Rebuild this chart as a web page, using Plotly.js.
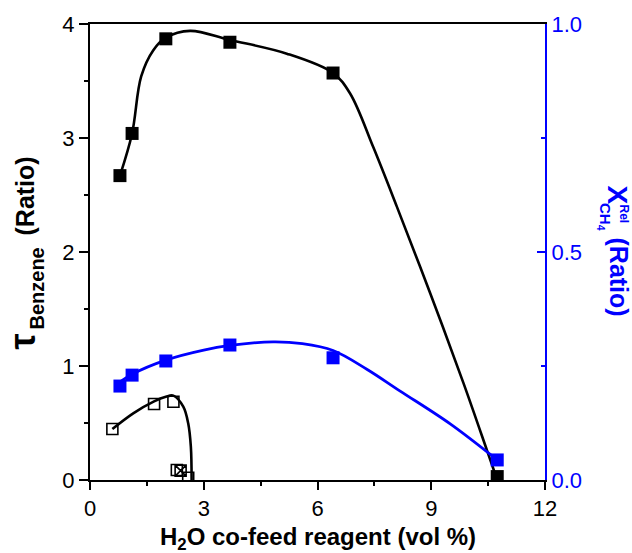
<!DOCTYPE html>
<html><head><meta charset="utf-8">
<script src="https://cdn.plot.ly/plotly-3.0.1.min.js"></script>
<style>html,body{margin:0;padding:0;background:#fff}</style>
</head><body><div id="chart" style="width:632px;height:553px"></div>
<script>
// measured points (filled squares: tau Benzene, left axis; blue: X_rel CH4, right axis)
const waterFilled = [0.79, 1.11, 2.0, 3.69, 6.41, 10.74];
const tauFilled   = [2.67, 3.04, 3.87, 3.84, 3.57, 0.03];
const xRelCH4     = [0.206, 0.23, 0.261, 0.296, 0.268, 0.044];
// open squares (tau Benzene)
const waterOpen   = [0.59, 1.69, 2.2, 2.29, 2.59];
const tauOpen     = [0.447, 0.667, 0.687, 0.088, 0.02];
const waterCrossed = [2.39];
const tauCrossed   = [0.082];
// guide curves
const fitTauX = [0.79, 1.11, 1.35, 1.67, 2.0, 2.64, 3.69, 5.19, 6.41, 6.86, 7.47, 8.09, 8.97, 9.85, 10.47, 10.74];
const fitTauY = [2.67, 3.04, 3.54, 3.77, 3.88, 3.94, 3.86, 3.74, 3.57, 3.39, 2.92, 2.40, 1.64, 0.85, 0.26, 0.0];
const fitCH4X = [0.79, 1.11, 2.0, 3.0, 3.69, 4.83, 5.6, 6.41, 7.3, 8.18, 9.5, 10.74];
const fitCH4Y = [0.215, 0.232, 0.263, 0.285, 0.295, 0.303, 0.299, 0.284, 0.243, 0.195, 0.123, 0.044];
const fitOpenX = [0.59, 1.14, 1.69, 2.0, 2.2, 2.46, 2.59, 2.66, 2.68];
const fitOpenY = [0.447, 0.585, 0.69, 0.73, 0.74, 0.643, 0.497, 0.29, 0.0];
// tick labels
const xTicks = [0, 3, 6, 9, 12];
const yTicks = [0, 1, 2, 3, 4];
const y2Ticks = [0, 0.5, 1.0];

const FONT = 'Liberation Sans, Arial, sans-serif';
const BLUE = '#0000ff';

const traces = [
  {x: fitTauX, y: fitTauY, mode: 'lines', line: {color: '#000', width: 2.6, shape: 'spline', smoothing: 1}, hoverinfo: 'skip'},
  {x: fitOpenX, y: fitOpenY, mode: 'lines', line: {color: '#000', width: 2.6, shape: 'spline', smoothing: 1}, hoverinfo: 'skip'},
  {x: fitCH4X, y: fitCH4Y, yaxis: 'y2', mode: 'lines', line: {color: BLUE, width: 2.8, shape: 'spline', smoothing: 1}, hoverinfo: 'skip'},
  {x: waterFilled, y: tauFilled, mode: 'markers', marker: {symbol: 'square', size: 13, color: '#000'}},
  {x: waterFilled, y: xRelCH4, yaxis: 'y2', mode: 'markers', marker: {symbol: 'square', size: 13, color: BLUE}},
  {x: waterOpen, y: tauOpen, mode: 'markers', marker: {symbol: 'square-open', size: 11, color: '#000', line: {width: 1.6}}},
  {x: waterCrossed, y: tauCrossed, mode: 'markers', marker: {symbol: 'square-x-open', size: 11, color: '#000', line: {width: 1.6}}}
];

function px2x(px) { return (px - 90) / 455; }
function py2y(py) { return (480 - py) / 456; }

const layout = {
  width: 632, height: 553,
  margin: {l: 90, r: 87, t: 24, b: 73, pad: 0},
  paper_bgcolor: '#fff', plot_bgcolor: '#fff',
  showlegend: false,
  font: {family: FONT, size: 21, color: '#000'},
  xaxis: {
    range: [0, 12], tickvals: xTicks, ticktext: xTicks.map(String),
    ticks: 'outside', ticklen: 8, tickwidth: 2, tickcolor: '#000',
    showline: true, linewidth: 2, linecolor: '#000', mirror: true,
    showgrid: false, zeroline: false,
    tickfont: {family: FONT, size: 22, color: '#000'},
    minor: {dtick: 1.5, tick0: 0, ticks: 'outside', ticklen: 4, tickwidth: 2, tickcolor: '#000', showgrid: false}
  },
  yaxis: {
    range: [0, 4], tickvals: yTicks, ticktext: yTicks.map(String),
    ticks: 'outside', ticklen: 9, tickwidth: 2, tickcolor: '#000',
    showline: true, linewidth: 2, linecolor: '#000', mirror: false,
    showgrid: false, zeroline: false,
    tickfont: {family: FONT, size: 22, color: '#000'},
    minor: {dtick: 0.5, tick0: 0, ticks: 'outside', ticklen: 4, tickwidth: 2, tickcolor: '#000', showgrid: false}
  },
  yaxis2: {
    overlaying: 'y', side: 'right', anchor: 'x',
    range: [0, 1], tickvals: y2Ticks, ticktext: y2Ticks.map(v => v.toFixed(1)),
    ticks: 'inside', ticklen: 8, tickwidth: 2, tickcolor: BLUE,
    showline: true, linewidth: 2, linecolor: BLUE,
    showgrid: false, zeroline: false,
    tickfont: {family: FONT, size: 22, color: BLUE},
    minor: {dtick: 0.25, tick0: 0, ticks: 'inside', ticklen: 4, tickwidth: 2, tickcolor: BLUE, showgrid: false}
  },
  annotations: [
    // x axis title
    {xref: 'paper', yref: 'paper', x: px2x(317.5), y: py2y(538), xanchor: 'center', yanchor: 'middle', showarrow: false,
     text: '<b>H<sub>2</sub>O co-feed reagent (vol %)</b>', font: {family: FONT, size: 24, color: '#000'}},
    // left title
    {xref: 'paper', yref: 'paper', x: px2x(22), y: py2y(341.5), xanchor: 'center', yanchor: 'middle', showarrow: false, textangle: -90,
     text: '<b>τ</b>', font: {family: FONT, size: 36, color: '#000'}},
    {xref: 'paper', yref: 'paper', x: px2x(36), y: py2y(288.5), xanchor: 'center', yanchor: 'middle', showarrow: false, textangle: -90,
     text: '<b>Benzene</b>', font: {family: FONT, size: 20, color: '#000'}},
    {xref: 'paper', yref: 'paper', x: px2x(24.5), y: py2y(196), xanchor: 'center', yanchor: 'middle', showarrow: false, textangle: -90,
     text: '<b>(Ratio)</b>', font: {family: FONT, size: 25, color: '#000'}},
    // right title
    {xref: 'paper', yref: 'paper', x: px2x(617.5), y: py2y(195), xanchor: 'center', yanchor: 'middle', showarrow: false, textangle: 90,
     text: '<b>X</b>', font: {family: FONT, size: 28, color: BLUE}},
    {xref: 'paper', yref: 'paper', x: px2x(624), y: py2y(213.5), xanchor: 'center', yanchor: 'middle', showarrow: false, textangle: 90,
     text: '<b>Rel</b>', font: {family: FONT, size: 12, color: BLUE}},
    {xref: 'paper', yref: 'paper', x: px2x(605), y: py2y(217), xanchor: 'center', yanchor: 'middle', showarrow: false, textangle: 90,
     text: '<b>CH<sub>4</sub></b>', font: {family: FONT, size: 15, color: BLUE}},
    {xref: 'paper', yref: 'paper', x: px2x(618.5), y: py2y(277), xanchor: 'center', yanchor: 'middle', showarrow: false, textangle: 90,
     text: '<b>(Ratio)</b>', font: {family: FONT, size: 25, color: BLUE}}
  ]
};

Plotly.newPlot('chart', traces, layout, {displayModeBar: false, staticPlot: true});
</script></body></html>
